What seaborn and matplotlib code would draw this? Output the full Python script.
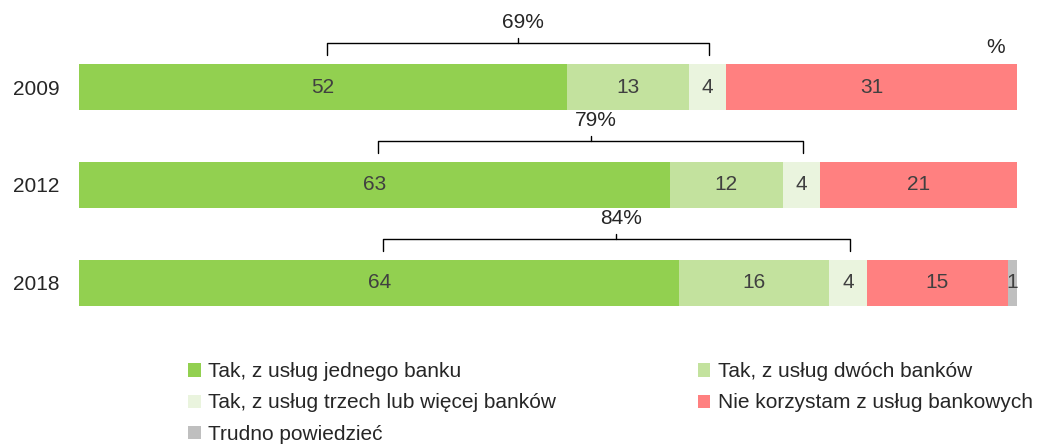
import numpy as np
import pandas as pd
import matplotlib
matplotlib.use("Agg")
import matplotlib.pyplot as plt
import seaborn as sns
from matplotlib.patches import Patch

# dane z wykresu
years = ["2009", "2012", "2018"]
series = ["Tak, z usług jednego banku", "Tak, z usług dwóch banków",
          "Tak, z usług trzech lub więcej banków", "Nie korzystam z usług bankowych",
          "Trudno powiedzieć"]
one_bank = [52, 63, 64]
two_banks = [13, 12, 16]
three_banks = [4, 4, 4]
no_bank = [31, 21, 15]
hard_to_say = [0, 0, 1]
yes_total = ["69%", "79%", "84%"]

colors = ["#92D050", "#C3E29E", "#EAF4DE", "#FF8080", "#BFBFBF"]

sns.set_theme(style="white")
plt.rcParams["font.family"] = ["Liberation Sans", "DejaVu Sans"]
FS = 15

vals = np.array([one_bank, two_banks, three_banks, no_bank, hard_to_say], dtype=float)
cum = vals.cumsum(axis=0)

fig = plt.figure(figsize=(10.41, 4.46), dpi=100)
ax = fig.add_axes([79 / 1041, 1 - 330 / 446, 938 / 1041, 320 / 446])

# stacked bars: draw cumulative totals from the back
for i in range(len(series) - 1, -1, -1):
    df = pd.DataFrame({"year": years, "val": cum[i]})
    sns.barplot(data=df, x="val", y="year", orient="h", color=colors[i],
                width=0.47, ax=ax, saturation=1, linewidth=0)

# value labels
for j in range(len(years)):
    start = 0
    for i in range(len(series)):
        v = vals[i, j]
        if v > 0:
            ax.text(start + v / 2, j, f"{int(v)}", ha="center", va="center",
                    fontsize=FS, color="#404040")
        start += v

# brackets over "Tak" answers
for j in range(len(years)):
    x0 = one_bank[j] / 2 + 0.4
    x1 = one_bank[j] + two_banks[j] + three_banks[j] - 1.8
    xm = (x0 + x1) / 2
    yb = j - 0.45
    ax.plot([x0, x0, xm, xm], [j - 0.33, yb, yb, yb - 0.05], color="black", lw=1)
    ax.plot([xm, x1, x1], [yb, yb, j - 0.33], color="black", lw=1)
    ax.text(xm + 0.5, j - 0.66, yes_total[j], ha="center", va="center", fontsize=FS)

ax.text(97.7, -0.40, "%", ha="center", va="center", fontsize=FS)

ax.set_xlim(0, 100)
ax.set_ylim(2 + 47 / 98, -77 / 98)
ax.set_xlabel("")
ax.set_ylabel("")
ax.set_xticks([])
ax.tick_params(axis="y", length=0, labelsize=FS, pad=14)
sns.despine(ax=ax, left=True, bottom=True)

order = [0, 2, 4, 1, 3]
handles = [Patch(facecolor=colors[k], edgecolor="none", label=series[k]) for k in order]
fig.legend(handles=handles, loc="upper left", bbox_to_anchor=(178 / 1041, 1 - 352 / 446),
           ncol=2, frameon=False, fontsize=FS, handlelength=0.6, handleheight=0.6,
           handletextpad=0.35, columnspacing=6.8, labelspacing=0.58, borderpad=0)

fig.savefig("out.png", dpi=100)
